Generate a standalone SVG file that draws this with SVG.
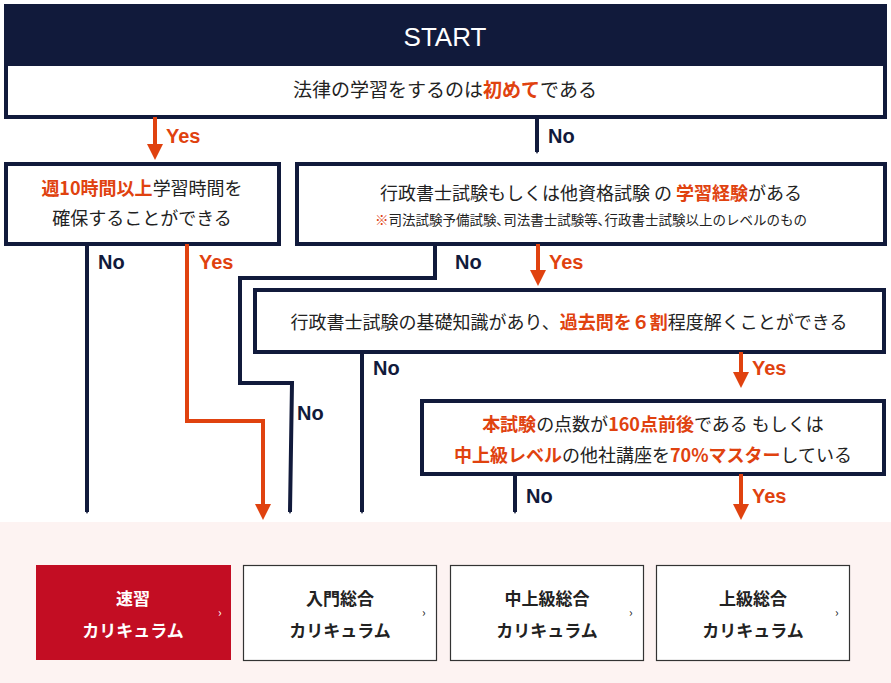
<svg xmlns="http://www.w3.org/2000/svg" width="891" height="683" viewBox="0 0 891 683">
<style>
.t{font-family:"Noto Sans CJK JP","Noto Sans",sans-serif;fill:#222;}
.b{font-weight:bold;}
.o{fill:#e0420f;font-weight:bold;}
.box{fill:#fff;stroke:#111a3b;stroke-width:4;}
.n{fill:none;stroke:#111a3b;stroke-width:4;}
.y{fill:none;stroke:#e0420f;stroke-width:4;}
.lb{font-family:"Liberation Sans",sans-serif;font-weight:bold;font-size:20px;}
.card{fill:#fff;stroke:#333;stroke-width:1.2;}
</style>
<defs>
<marker id="an" markerWidth="4" markerHeight="4" refX="2" refY="2" orient="auto" markerUnits="userSpaceOnUse" viewBox="0 0 4 4"><path d="M0,0L4,2L0,4z" fill="#111a3b"/></marker>
<marker id="ay" markerWidth="4" markerHeight="4" refX="2" refY="2" orient="auto" viewBox="0 0 4 4"><path d="M0,0L4,2L0,4z" fill="#e0420f"/></marker>
</defs>
<rect x="0" y="0" width="891" height="683" fill="#fff"/>
<rect x="0" y="522" width="891" height="161" fill="#fdf3f2"/>
<g id="start"><rect x="4" y="4" width="883" height="60" fill="#111a3b"/>
<text x="445" y="46" text-anchor="middle" font-family="Liberation Sans,sans-serif" font-size="26" fill="#fff">START</text></g>
<g id="q1"><rect class="box" x="6" y="64" width="879" height="53"/>
<text class="t" x="445" y="97" text-anchor="middle" font-size="19">法律の学習をするのは<tspan class="o">初めて</tspan>である</text></g>
<g id="q2"><rect class="box" x="6" y="164" width="273" height="80"/>
<text class="t" x="142" y="195" text-anchor="middle" font-size="18"><tspan class="o">週10時間以上</tspan>学習時間を</text>
<text class="t" x="142" y="225" text-anchor="middle" font-size="18">確保することができる</text></g>
<g id="q3"><rect class="box" x="297" y="164" width="588" height="80"/>
<text class="t" x="591" y="200" text-anchor="middle" font-size="18">行政書士試験もしくは他資格試験 の <tspan class="o">学習経験</tspan>がある</text>
<text class="t" x="591" y="225" text-anchor="middle" font-size="13.5"><tspan fill="#e0420f">※</tspan>司法試験予備試験､司法書士試験等､行政書士試験以上のレベルのもの</text></g>
<g id="q4"><rect class="box" x="255" y="290" width="629" height="62"/>
<text class="t" x="569" y="329" text-anchor="middle" font-size="18">行政書士試験の基礎知識があり、<tspan class="o">過去問を６割</tspan>程度解くことができる</text></g>
<g id="q5"><rect class="box" x="422" y="401" width="462" height="73"/>
<text class="t" x="653" y="431" text-anchor="middle" font-size="18"><tspan class="o">本試験</tspan>の点数が<tspan class="o">160点前後</tspan>である もしくは</text>
<text class="t" x="653" y="462" text-anchor="middle" font-size="18"><tspan class="o">中上級レベル</tspan>の他社講座を<tspan class="o">70%マスター</tspan>している</text></g>
<g id="connectors">
<path class="y" d="M155,117V152" marker-end="url(#ay)"/>
<path class="n" d="M537,117V152" marker-end="url(#an)"/>
<path class="n" d="M87,244V512" marker-end="url(#an)"/>
<path class="y" d="M187,244V421H263V512" marker-end="url(#ay)"/>
<path class="n" d="M435,244V278H240V383H292L290,512" marker-end="url(#an)"/>
<path class="y" d="M538,244V278" marker-end="url(#ay)"/>
<path class="n" d="M362,352V512" marker-end="url(#an)"/>
<path class="y" d="M741,352V380" marker-end="url(#ay)"/>
<path class="n" d="M515,474V512" marker-end="url(#an)"/>
<path class="y" d="M741,474V512" marker-end="url(#ay)"/>
<text class="lb" x="166" y="143" fill="#e0420f">Yes</text>
<text class="lb" x="548" y="143" fill="#111a3b">No</text>
<text class="lb" x="98" y="269" fill="#111a3b">No</text>
<text class="lb" x="199" y="269" fill="#e0420f">Yes</text>
<text class="lb" x="455" y="269" fill="#111a3b">No</text>
<text class="lb" x="549" y="269" fill="#e0420f">Yes</text>
<text class="lb" x="373" y="375" fill="#111a3b">No</text>
<text class="lb" x="297" y="420" fill="#111a3b">No</text>
<text class="lb" x="752" y="375" fill="#e0420f">Yes</text>
<text class="lb" x="526" y="503" fill="#111a3b">No</text>
<text class="lb" x="752" y="503" fill="#e0420f">Yes</text>
</g>
<g id="c1"><rect x="36" y="565" width="195" height="95" fill="#c30d23"/>
<text class="t b" x="133" y="605" text-anchor="middle" font-size="17" fill="#fff" style="fill:#fff">速習</text>
<text class="t b" x="133" y="637" text-anchor="middle" font-size="17" style="fill:#fff">カリキュラム</text>
<text class="t" x="218" y="617" font-size="12" style="fill:#fff">›</text></g>
<g id="c2"><rect class="card" x="243.5" y="565.5" width="193" height="95"/>
<text class="t b" x="340" y="605" text-anchor="middle" font-size="17">入門総合</text>
<text class="t b" x="340" y="637" text-anchor="middle" font-size="17">カリキュラム</text>
<text class="t" x="422" y="617" font-size="12">›</text></g>
<g id="c3"><rect class="card" x="450.5" y="565.5" width="193" height="95"/>
<text class="t b" x="547" y="605" text-anchor="middle" font-size="17">中上級総合</text>
<text class="t b" x="547" y="637" text-anchor="middle" font-size="17">カリキュラム</text>
<text class="t" x="629" y="617" font-size="12">›</text></g>
<g id="c4"><rect class="card" x="656.5" y="565.5" width="193" height="95"/>
<text class="t b" x="753" y="605" text-anchor="middle" font-size="17">上級総合</text>
<text class="t b" x="753" y="637" text-anchor="middle" font-size="17">カリキュラム</text>
<text class="t" x="835" y="617" font-size="12">›</text></g>
</svg>
